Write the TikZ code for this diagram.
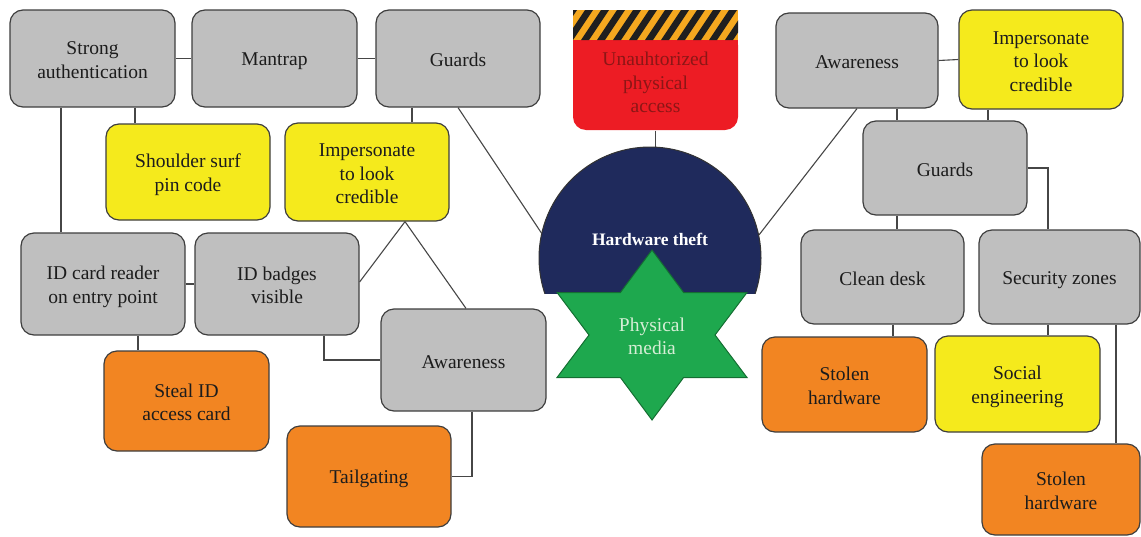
\documentclass[tikz,border=0pt]{standalone}
\usepackage{fontspec}
\setmainfont{Liberation Serif}
\usetikzlibrary{calc,backgrounds}
\definecolor{boxgray}{RGB}{191,191,191}
\definecolor{edgegray}{RGB}{62,62,62}
\definecolor{linegray}{RGB}{70,70,70}
\definecolor{boxyellow}{RGB}{245,234,28}
\definecolor{boxorange}{RGB}{242,133,34}
\definecolor{alertred}{RGB}{237,28,36}
\definecolor{alerttext}{RGB}{140,22,22}
\definecolor{stripeorange}{RGB}{245,168,31}
\definecolor{theftnavy}{RGB}{31,42,92}
\definecolor{mediagreen}{RGB}{30,168,78}
\definecolor{mediaedge}{RGB}{20,110,50}
\definecolor{mediatext}{RGB}{214,238,214}
\definecolor{inktext}{RGB}{28,28,28}
% fixed height for the first text line, so every box centres its text alike
\newcommand{\boxtop}{\rule{0pt}{19pt}}
\begin{document}
\begin{tikzpicture}[x=1pt,y=-1pt,
  evenlines/.style={execute at end node={\rule[-3pt]{0pt}{3pt}}},
  box/.style={draw=edgegray, line width=1.2pt, rounded corners=13pt,
    minimum width=164pt, minimum height=97pt, inner sep=2pt, align=center,
    font=\fontsize{19.5}{23.5}\selectfont, text=inktext, evenlines},
  ctrl/.style={box, fill=boxgray},
  threat/.style={box, fill=boxyellow},
  attack/.style={box, fill=boxorange},
  conn/.style={draw=linegray, line width=1.1pt}]
\useasboundingbox (0,0) rectangle (1141,536);
\clip (0,0) rectangle (1141,536);

% ---------- left cluster ----------
\node[ctrl, minimum width=165pt] (sa) at (92.5,58.5) {\boxtop Strong\\authentication};
\node[ctrl, minimum width=165pt] (mt) at (274.5,58.5) {\boxtop Mantrap};
\node[ctrl] (gl) at (458,58.5) {\boxtop Guards};
\node[threat, minimum height=96pt] (ss) at (188,172) {\boxtop Shoulder surf\\pin code};
\node[threat, minimum height=98pt] (il) at (367,172) {\boxtop Impersonate\\to look\\credible};
\node[ctrl, minimum height=102pt] (idr) at (103,284) {\boxtop ID card reader\\on entry point};
\node[ctrl, minimum height=102pt] (idb) at (277,284) {\boxtop ID badges\\visible};
\node[attack, minimum width=165pt, minimum height=100pt] (sid) at (186.5,401) {\boxtop Steal ID\\access card};
\node[ctrl, minimum width=165pt, minimum height=102pt] (awl) at (463.5,360) {\boxtop Awareness};
\node[attack, minimum height=101pt] (tg) at (369,476.5) {\boxtop Tailgating};

% ---------- right cluster ----------
\node[ctrl, minimum width=162pt, minimum height=95pt] (awr) at (857,60.5) {\boxtop Awareness};
\node[threat, minimum height=99pt] (ir) at (1041,59.5) {\boxtop Impersonate\\to look\\credible};
\node[ctrl, minimum height=94pt] (gr) at (945,168) {\boxtop Guards};
\node[ctrl, minimum width=163pt, minimum height=94pt] (cd) at (882.5,277) {\boxtop Clean desk};
\node[ctrl, minimum width=161pt, minimum height=94pt] (sz) at (1059.5,277) {\boxtop Security zones};
\node[attack, minimum width=165pt, minimum height=95pt] (sh1) at (844.5,384.5) {\boxtop Stolen\\hardware};
\node[threat, minimum width=165pt, minimum height=96pt] (se) at (1017.5,384) {\boxtop Social\\engineering};
\node[attack, minimum width=158pt, minimum height=91pt] (sh2) at (1061,489.5) {\boxtop Stolen\\hardware};

% ---------- centre: hardware theft disc, cut level with the star arms ----------
\begin{scope}
  \clip (520,130) rectangle (780,293);
  \node[circle, minimum size=222pt, inner sep=0pt, fill=theftnavy, draw=black!80,
        line width=1pt] (hw) at (650,258) {};
\end{scope}
\node[text=white, font=\bfseries\fontsize{17.5}{20}\selectfont] (hwlabel)
      at (650,239) {Hardware theft};

% physical media star
\coordinate (sc) at (652,335);
\filldraw[fill=mediagreen, draw=mediaedge, line width=1pt]
  ($(sc)+(0,-85)$) -- ($(sc)+(31.6,-42.5)$) -- ($(sc)+(95,-42.5)$) --
  ($(sc)+(63,0)$) -- ($(sc)+(95,42.5)$) -- ($(sc)+(31.6,42.5)$) --
  ($(sc)+(0,85)$) -- ($(sc)+(-31.6,42.5)$) -- ($(sc)+(-95,42.5)$) --
  ($(sc)+(-63,0)$) -- ($(sc)+(-95,-42.5)$) -- ($(sc)+(-31.6,-42.5)$) -- cycle;
\node[align=center, text=mediatext, font=\fontsize{19.5}{23.5}\selectfont,
      evenlines] (pm) at (sc) {\boxtop Physical\\media};

% unauthorised access block with hazard stripes on top
\node[box, draw=none, fill=alertred, minimum width=165pt, minimum height=98pt,
      text=alerttext] (ua) at (655.5,81) {\boxtop Unauhtorized\\physical\\access};
\fill[alertred] (573,32) rectangle (738,50);
\begin{scope}
  \clip (573,10) rectangle (738,40);
  \fill[stripeorange] (573,10) rectangle (738,40);
  \foreach \i in {-2,...,12}
    \fill[black!88] (565+16*\i,40) -- ++(8,0) -- ++(20,-30) -- ++(-8,0) -- cycle;
\end{scope}

% ---------- connectors, behind everything ----------
\begin{pgfonlayer}{background}
\draw[conn] (sa.east) -- (mt.west);
\draw[conn] (mt.east) -- (gl.west);
\draw[conn] ([xshift=42.5pt]sa.south) -- ([xshift=42.5pt]sa.south |- ss.north);
\draw[conn] ([xshift=-31.5pt]sa.south) -- ([xshift=-31.5pt]sa.south |- idr.north);
\draw[conn] ([xshift=-46pt]gl.south) -- ([xshift=-46pt]gl.south |- il.north);
\draw[conn] (idr.east) -- (idb.west);
\draw[conn] ([xshift=35pt]idr.south) -- ([xshift=35pt]idr.south |- sid.north);
\draw[conn] ([xshift=38pt]il.south) coordinate (apex) -- ([yshift=2pt]idb.east);
\draw[conn] (apex) -- ([xshift=2.5pt]awl.north);
\draw[conn] ([xshift=47pt]idb.south) |- (awl.west);
\draw[conn] ([xshift=8.5pt]awl.south) |- (tg.east);
\draw[conn] (gl.south) -- (hw.167);
\draw[conn] (awr.south) -- (hw.12);
\draw[conn] (ua.south) -- (ua.south |- hw.north);
\draw[conn] (awr.east) -- (ir.west);
\draw[conn] ([xshift=40pt]awr.south) -- ([xshift=40pt]awr.south |- gr.north);
\draw[conn] ([xshift=-53pt]ir.south) -- ([xshift=-53pt]ir.south |- gr.north);
\draw[conn] ([xshift=-48pt]gr.south) -- ([xshift=-48pt]gr.south |- cd.north);
\draw[conn] (gr.east) -| ([xshift=-11.5pt]sz.north);
\draw[conn] ([xshift=10.5pt]cd.south) -- ([xshift=10.5pt]cd.south |- sh1.north);
\draw[conn] ([xshift=-11.5pt]sz.south) -- ([xshift=-11.5pt]sz.south |- se.north);
\draw[conn] ([xshift=56.5pt]sz.south) -- ([xshift=56.5pt]sz.south |- sh2.north);
\end{pgfonlayer}
\end{tikzpicture}
\end{document}
